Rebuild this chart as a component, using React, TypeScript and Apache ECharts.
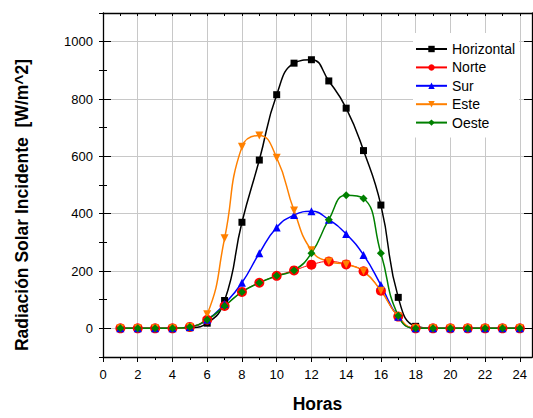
import React, { useEffect, useRef } from "react";
import * as echarts from "echarts";

const hours = [1, 2, 3, 4, 5, 6, 7, 8, 9, 10, 11, 12, 13, 14, 15, 16, 17, 18, 19, 20, 21, 22, 23, 24];
const horizontal = [0, 0, 0, 0, 2, 18, 97, 370, 587, 815, 925, 937, 863, 768, 620, 430, 108, 7, 0, 0, 0, 0, 0, 0];
const norte = [0, 0, 0, 0, 5, 30, 78, 127, 159, 183, 202, 222, 233, 223, 199, 131, 41, 0, 0, 0, 0, 0, 0, 0];
const sur = [0, 0, 0, 0, 5, 30, 85, 159, 262, 352, 395, 408, 379, 329, 256, 151, 40, 0, 0, 0, 0, 0, 0, 0];
const este = [0, 0, 0, 0, 5, 49, 314, 633, 673, 595, 411, 272, 233, 223, 199, 131, 41, 0, 0, 0, 0, 0, 0, 0];
const oeste = [0, 0, 0, 0, 5, 30, 78, 127, 159, 183, 202, 262, 379, 464, 453, 262, 44, 0, 0, 0, 0, 0, 0, 0];

const xMajorTicks = [0, 2, 4, 6, 8, 10, 12, 14, 16, 18, 20, 22, 24];
const yMajorTicks = [0, 200, 400, 600, 800, 1000];

const FONT = "Arial, 'Liberation Sans', sans-serif";

function pairs(vals: number[]) {
  return hours.map((h, i) => [h, vals[i]]);
}

export default function App() {
  const ref = useRef<HTMLDivElement>(null);
  useEffect(() => {
    if (!ref.current) return;
    const chart = echarts.init(ref.current, undefined, { renderer: "svg" });
    const yBase = { type: "value", min: -100, max: 1100, interval: 100, gridIndex: 0 };
    const line = () => ({ show: true, onZero: false, lineStyle: { color: "#000", width: 1.3 } });
    const titleStyle = { fontSize: 17.5, fontWeight: "bold", color: "#000", fontFamily: FONT };
    const mk = (name: string, data: number[], color: string, symbol: string, size: number, width: number, rotate = 0) => ({
      name,
      type: "line",
      data: pairs(data),
      smooth: 0.5,
      symbol,
      symbolSize: size,
      symbolRotate: rotate,
      showAllSymbol: true,
      lineStyle: { color, width },
      itemStyle: { color },
      emphasis: { disabled: true },
      xAxisIndex: 0,
      yAxisIndex: 0,
    });
    chart.setOption({
      animation: false,
      backgroundColor: "#fff",
      textStyle: { fontFamily: FONT },
      grid: { left: 103, top: 13, right: 1, bottom: 56, containLabel: false },
      legend: {
        orient: "vertical",
        left: 413,
        top: 33,
        padding: [9, 4, 8, 2],
        backgroundColor: "#fff",
        itemWidth: 31,
        itemHeight: 8,
        itemGap: 4.4,
        textStyle: { fontSize: 14, color: "#000", fontFamily: FONT },
        data: ["Horizontal", "Norte", "Sur", "Este", "Oeste"],
      },
      xAxis: [
        {
          type: "value",
          min: 0,
          max: 24.7,
          interval: 2,
          position: "bottom",
          name: "Horas",
          nameLocation: "middle",
          nameGap: 38,
          nameTextStyle: titleStyle,
          axisLine: line(),
          axisTick: { show: true, inside: false, length: 5, customValues: xMajorTicks, lineStyle: { color: "#000" } },
          minorTick: { show: true, splitNumber: 2, length: 3, lineStyle: { color: "#000" } },
          axisLabel: { show: true, customValues: xMajorTicks, margin: 11, fontSize: 13, color: "#000", fontFamily: FONT, formatter: (v: number) => String(v) },
          splitLine: { show: true, lineStyle: { color: "#c8c8c8", width: 1 } },
          minorSplitLine: { show: false },
        },
        {
          type: "value",
          min: 0,
          max: 24.7,
          interval: 1,
          position: "top",
          axisLine: line(),
          axisTick: { show: true, inside: true, length: 3, lineStyle: { color: "#000" } },
          axisLabel: { show: false },
          splitLine: { show: false },
        },
      ],
      yAxis: [
        {
          ...yBase,
          position: "left",
          name: "Radiación Solar Incidente  [W/m^2]",
          nameLocation: "middle",
          nameGap: 72,
          nameTextStyle: { ...titleStyle, padding: [0, 40, 0, 0] },
          axisLine: line(),
          axisTick: { show: true, inside: true, length: 8, customValues: yMajorTicks, lineStyle: { color: "#000" } },
          axisLabel: { show: true, customValues: yMajorTicks, margin: 10, fontSize: 13, color: "#000", fontFamily: FONT, formatter: (v: number) => String(v) },
          splitLine: { show: true, lineStyle: { color: "#c8c8c8", width: 1 } },
        },
        {
          ...yBase,
          position: "right",
          axisLine: line(),
          axisTick: { show: true, inside: true, length: 8, customValues: yMajorTicks, lineStyle: { color: "#000" } },
          axisLabel: { show: false },
          splitLine: { show: false },
        },
        {
          // requested "left": placed on the right, since left is already taken
          ...yBase,
          position: "left",
          axisLine: { show: false },
          axisTick: { show: true, inside: true, length: 4, lineStyle: { color: "#000" } },
          axisLabel: { show: false },
          splitLine: { show: false },
        },
        {
          // requested "right": placed on the left, since right is already taken
          ...yBase,
          position: "right",
          axisLine: { show: false },
          axisTick: { show: true, inside: true, length: 4, lineStyle: { color: "#000" } },
          axisLabel: { show: false },
          splitLine: { show: false },
        },
      ],
      series: [
        mk("Horizontal", horizontal, "#000000", "rect", 7, 1.5),
        mk("Norte", norte, "#ff0000", "circle", 10, 1),
        mk("Sur", sur, "#0000ff", "triangle", 8, 1.5),
        mk("Este", este, "#ff8000", "triangle", 8, 1.5, 180),
        mk("Oeste", oeste, "#008000", "diamond", 8, 1.5),
      ],
    });
    return () => chart.dispose();
  }, []);
  return <div ref={ref} style={{ width: 533, height: 418, position: "absolute", left: 0, top: 0 }} />;
}
